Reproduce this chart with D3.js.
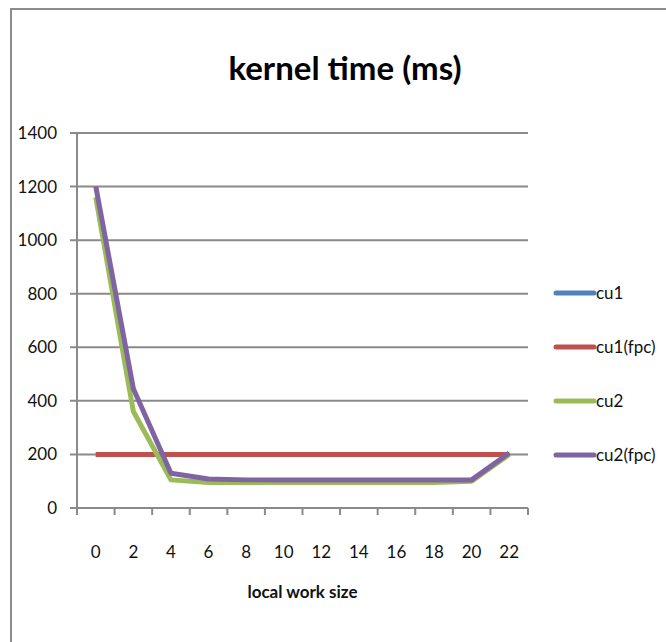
<!DOCTYPE html>
<html>
<head>
<meta charset="utf-8">
<script src="https://cdn.jsdelivr.net/npm/d3@7"></script>
<style>
  body { margin: 0; background: #fff; }
  text { font-family: Lato, "Open Sans", sans-serif; }
</style>
</head>
<body>
<svg width="666" height="642"></svg>
<script>
// chart data
var workSizes = ["0", "2", "4", "6", "8", "10", "12", "14", "16", "18", "20", "22"];
var cu1     = [200, 200, 200, 200, 200, 200, 200, 200, 200, 200, 200, 200];
var cu1fpc  = [200, 200, 200, 200, 200, 200, 200, 200, 200, 200, 200, 200];
var cu2     = [1160, 360, 105, 95, 95, 95, 95, 95, 95, 95, 100, 200];
var cu2fpc  = [1200, 445, 130, 108, 105, 105, 105, 105, 105, 105, 105, 205];
var seriesNames = ["cu1", "cu1(fpc)", "cu2", "cu2(fpc)"];
var yTicks = [0, 200, 400, 600, 800, 1000, 1200, 1400];

var allSeries = [cu1, cu1fpc, cu2, cu2fpc];
var colors = ["#4F81BD", "#C0504D", "#9BBB59", "#8064A2"];

var svg = d3.select("svg");

// outer frame
svg.append("rect")
    .attr("x", 11).attr("y", 9)
    .attr("width", 700).attr("height", 700)
    .attr("fill", "none")
    .attr("stroke", "#8c8c8c")
    .attr("stroke-width", 2);

var plotL = 77, plotR = 528, plotT = 133, plotB = 508;

var x = d3.scaleBand()
    .domain(workSizes)
    .range([plotL, plotR]);

var y = d3.scaleLinear()
    .domain([0, 1400])
    .range([plotB, plotT]);

/* gridlines */
svg.append("g")
    .selectAll("line")
    .data(yTicks)
    .enter().append("line")
    .attr("x1", plotL - 7)
    .attr("x2", plotR)
    .attr("y1", function(d) { return y(d); })
    .attr("y2", function(d) { return y(d); })
    .attr("stroke", "#8a8a8a")
    .attr("stroke-width", 2);

// y labels
svg.append("g")
    .selectAll("text")
    .data(yTicks)
    .enter().append("text")
    .attr("x", 57)
    .attr("y", function(d) { return y(d); })
    .attr("dy", "0.35em")
    .attr("text-anchor", "end")
    .attr("font-size", 17)
    .attr("fill", "#111")
    .text(function(d) { return d; });

// y axis line
svg.append("line")
    .attr("x1", plotL).attr("x2", plotL)
    .attr("y1", plotT).attr("y2", plotB + 6)
    .attr("stroke", "#8a8a8a")
    .attr("stroke-width", 2);

/* x axis: ticks at category borders */
var borders = workSizes.map(function(d) { return x(d); }).concat([plotR]);
svg.append("g")
    .selectAll("line")
    .data(borders)
    .enter().append("line")
    .attr("x1", function(d) { return d; })
    .attr("x2", function(d) { return d; })
    .attr("y1", plotB)
    .attr("y2", plotB + 7)
    .attr("stroke", "#8a8a8a")
    .attr("stroke-width", 2);

svg.append("g")
    .selectAll("text")
    .data(workSizes)
    .enter().append("text")
    .attr("x", function(d) { return x(d) + x.bandwidth() / 2; })
    .attr("y", 558)
    .attr("text-anchor", "middle")
    .attr("font-size", 17)
    .attr("fill", "#111")
    .text(function(d) { return d; });

svg.append("text")
    .attr("x", (plotL + plotR) / 2)
    .attr("y", 598)
    .attr("text-anchor", "middle")
    .attr("font-size", 17)
    .attr("font-weight", "bold")
    .attr("fill", "#111")
    .text("local  work size");

// title
svg.append("text")
    .attr("x", 345)
    .attr("y", 80)
    .attr("text-anchor", "middle")
    .attr("font-size", 33)
    .attr("font-weight", "bold")
    .attr("fill", "#000")
    .text("kernel time (ms)");

/* lines */
var line = d3.line()
    .x(function(d, i) { return x(workSizes[i]) + x.bandwidth() / 2; })
    .y(function(d) { return y(d); });

allSeries.forEach(function(s, i) {
    svg.append("path")
        .datum(s)
        .attr("fill", "none")
        .attr("stroke", colors[i])
        .attr("stroke-width", 5)
        .attr("stroke-linejoin", "round")
        .attr("d", line);
});

// legend
var leg = svg.append("g")
    .selectAll("g")
    .data(seriesNames)
    .enter().append("g")
    .attr("transform", function(d, i) { return "translate(556," + (293 + i * 54) + ")"; });

leg.append("line")
    .attr("x1", 0).attr("x2", 38)
    .attr("stroke", function(d, i) { return colors[i]; })
    .attr("stroke-width", 5)
    .attr("stroke-linecap", "round");

leg.append("text")
    .attr("x", 40)
    .attr("dy", "0.35em")
    .attr("font-size", 17)
    .attr("fill", "#111")
    .text(function(d) { return d; });
</script>
</body>
</html>
